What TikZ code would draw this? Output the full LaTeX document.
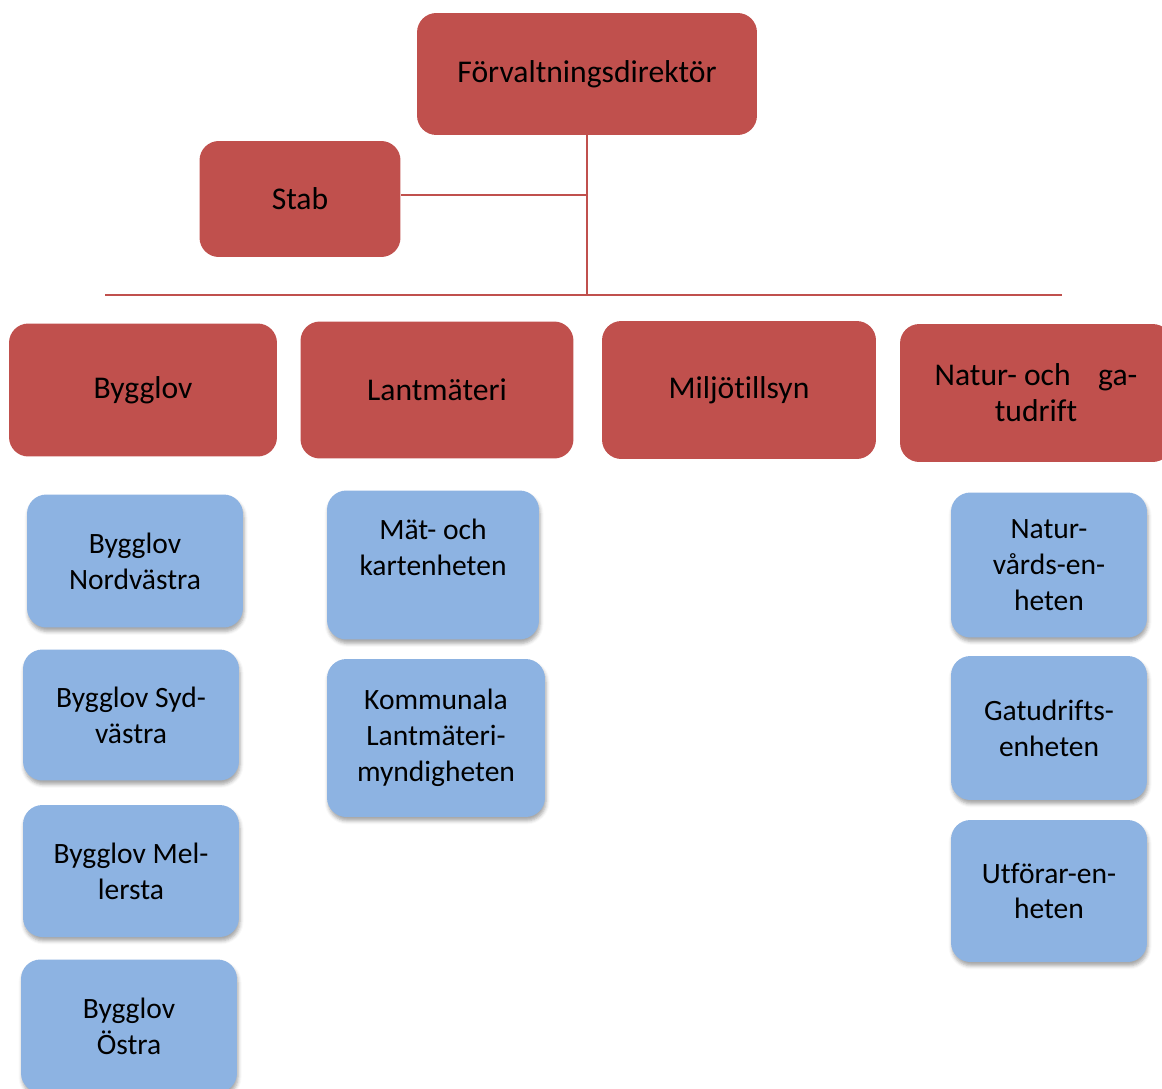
\documentclass[tikz,border=0pt]{standalone}
\usepackage{fontspec}
\setmainfont[Ligatures={NoCommon}]{Carlito}
\usetikzlibrary{positioning, shadows.blur}
\definecolor{boxred}{HTML}{C0504D}
\definecolor{boxblue}{HTML}{8DB3E2}

\begin{document}
\begin{tikzpicture} [
    x=0.02cm, y=-0.02cm,
    head/.style = {rectangle, rounded corners=11pt, fill=boxred,
        align=center, inner sep=0pt,
        font=\fontsize{18}{20.4}\selectfont},
    unit/.style = {rectangle, rounded corners=11pt, fill=boxblue,
        align=center, inner sep=0pt,
        font=\fontsize{16.8}{20.4}\selectfont,
        blur shadow={shadow xshift=0.6pt, shadow yshift=-2.2pt,
            shadow blur radius=2pt, shadow opacity=35}},
    link/.style = {draw=boxred, line width=0.8pt}]
    \useasboundingbox (0,0) rectangle (1162,1088);
    \clip (0,0) rectangle (1162,1088);
    % \draw [help lines] (0,0) grid (1162,1088);
    \node (dir) [head, minimum width=6.8cm, minimum height=2.44cm]
        at (587,74) {Förvaltningsdirektör};
    \node (stab) [head, minimum width=4.02cm, minimum height=2.32cm]
        at (300,199) {Stab};

    \node (byg) [head, minimum width=5.36cm, minimum height=2.66cm]
        at (143,390) {Bygglov};
    \node (lant) [head, minimum width=5.46cm, minimum height=2.74cm]
        at (437,390) {Lantmäteri};
    \node (milj) [head, minimum width=5.48cm, minimum height=2.76cm]
        at (739,390) {Miljötillsyn};
    \node (natur) [head, minimum width=5.44cm, minimum height=2.76cm]
        at (1036,393) {Natur- och\hspace{0.55cm}ga-\\tudrift};

    \node (bnv) [unit, minimum width=4.32cm, minimum height=2.66cm]
        at (135,561) {Bygglov\\Nordvästra};
    \node (bsv) [unit, minimum width=4.32cm, minimum height=2.62cm]
        at (131,715) {Bygglov Syd-\\västra};
    \node (bml) [unit, minimum width=4.32cm, minimum height=2.64cm]
        at (131,871) {Bygglov Mel-\\lersta};
    \node (bos) [unit, minimum width=4.32cm, minimum height=2.66cm]
        at (129,1026) {Bygglov\\Östra};

    \node (mat) [unit, minimum width=4.24cm, minimum height=2.98cm]
        at (433,565) {Mät- och\\kartenheten\\~};
    \node (kom) [unit, minimum width=4.36cm, minimum height=3.16cm]
        at (436,738) {Kommunala\\Lantmäteri-\\myndigheten};

    \node (nve) [unit, minimum width=3.92cm, minimum height=2.9cm]
        at (1049,565) {Natur-\\vårds-en-\\heten};
    \node (gat) [unit, minimum width=3.92cm, minimum height=2.88cm]
        at (1049,728) {Gatudrifts-\\enheten};
    \node (utf) [unit, minimum width=3.92cm, minimum height=2.84cm]
        at (1049,891) {Utförar-en-\\heten};

    \coordinate (hl) at (105,295);
    \coordinate (hr) at (1062,295);
    \draw [link] (hl) -- (hr);
    \draw [link] (dir.south) -- (dir.south |- hl);
    \draw [link] ([yshift=0.08cm]stab.east) -- ([yshift=0.08cm]stab.east -| dir.south);
\end{tikzpicture}
\end{document}
